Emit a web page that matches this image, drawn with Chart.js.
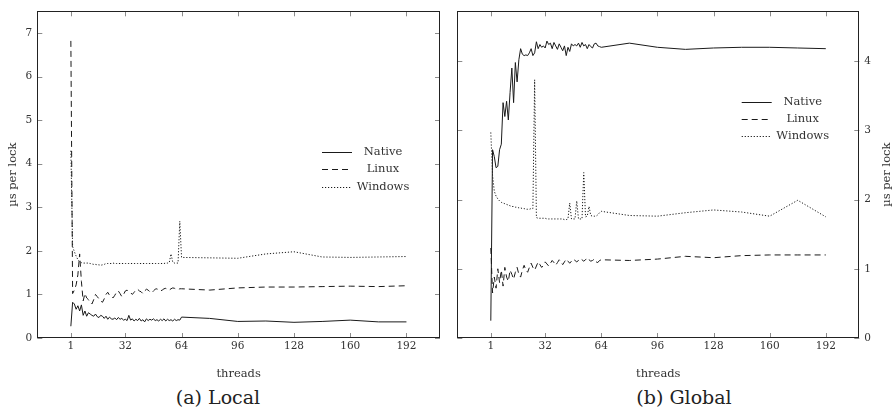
<!DOCTYPE html>
<html>
<head>
<meta charset="utf-8">
<script src="https://cdn.jsdelivr.net/npm/chart.js@4.4.1/dist/chart.umd.min.js"></script>
<style>
    body { margin: 0; background: #fff; width: 893px; height: 411px; position: relative; overflow: hidden; font-family: 'DejaVu Serif', serif; }
    .painel { position: absolute; top: 0; height: 385px; }
    #painel-local { left: 0; width: 446px; }
    #painel-global { left: 446px; width: 447px; }
    .legenda-fig { position: absolute; top: 386px; font-size: 19px; line-height: 22px; color: #222; transform: translateX(-50%); white-space: nowrap; }
    .aquecer { position: absolute; left: -999px; top: 0; font-family: 'DejaVu Serif'; font-size: 11px; }
</style>
</head>
<body>
<span class="aquecer">µs per lock 0123456789 threads</span>
<div class="painel" id="painel-local"><canvas id="chart-local"></canvas></div>
<div class="painel" id="painel-global"><canvas id="chart-global"></canvas></div>
<div class="legenda-fig" style="left:218px">(a) Local</div>
<div class="legenda-fig" style="left:684px">(b) Global</div>
<script>
const threads = [1, 2, 3, 4, 5, 6, 7, 8, 9, 10,
    11, 12, 13, 14, 15, 16, 17, 18, 19, 20,
    21, 22, 23, 24, 25, 26, 27, 28, 29, 30,
    31, 32, 33, 34, 35, 36, 37, 38, 39, 40,
    41, 42, 43, 44, 45, 46, 47, 48, 49, 50,
    51, 52, 53, 54, 55, 56, 57, 58, 59, 60,
    61, 62, 63, 64,
    80, 96, 112, 128, 144, 160, 176, 192];

const seriesNames = ['Native', 'Linux', 'Windows'];
const xTicks = [1, 32, 64, 96, 128, 160, 192];
const localYTicks = [0, 1, 2, 3, 4, 5, 6, 7];
const globalYTicks = [0, 1, 2, 3, 4];

const localNative = [0.27, 0.82, 0.78, 0.66, 0.74, 0.62, 0.76, 0.52, 0.62, 0.50,
    0.58, 0.55, 0.52, 0.50, 0.55, 0.49, 0.47, 0.52, 0.50, 0.45,
    0.50, 0.43, 0.48, 0.44, 0.43, 0.46, 0.42, 0.47, 0.43, 0.45,
    0.41, 0.43, 0.40, 0.52, 0.41, 0.44, 0.39, 0.43, 0.40, 0.45,
    0.39, 0.42, 0.37, 0.44, 0.40, 0.43, 0.41, 0.44, 0.40, 0.42,
    0.39, 0.43, 0.40, 0.44, 0.39, 0.43, 0.40, 0.42, 0.39, 0.43,
    0.40, 0.42, 0.41, 0.48,
    0.45, 0.38, 0.39, 0.36, 0.38, 0.41, 0.37, 0.37];

const localLinux = [6.82, 1.02, 1.10, 1.22, 1.45, 1.93, 1.30, 0.85, 1.02, 0.92,
    0.88, 0.82, 0.78, 0.88, 1.00, 0.95, 0.90, 0.85, 0.82, 0.90,
    1.00, 1.05, 0.98, 0.95, 0.92, 0.98, 1.05, 1.08, 1.02, 0.95,
    1.00, 1.08, 1.10, 1.06, 1.04, 1.00, 1.05, 1.10, 1.12, 1.08,
    1.06, 1.02, 1.08, 1.12, 1.10, 1.06, 1.04, 1.08, 1.12, 1.13,
    1.10, 1.08, 1.10, 1.13, 1.14, 1.12, 1.10, 1.13, 1.15, 1.14,
    1.12, 1.11, 1.13, 1.13,
    1.10, 1.15, 1.17, 1.17, 1.18, 1.19, 1.18, 1.20];

const localWindows = [4.30, 2.10, 1.98, 1.88, 1.80, 1.75, 1.73, 1.72, 1.72, 1.72,
    1.72, 1.71, 1.70, 1.69, 1.69, 1.68, 1.68, 1.67, 1.68, 1.69,
    1.71, 1.71, 1.71, 1.71, 1.72, 1.71, 1.71, 1.71, 1.71, 1.71,
    1.71, 1.71, 1.71, 1.71, 1.71, 1.71, 1.71, 1.71, 1.71, 1.71,
    1.71, 1.71, 1.71, 1.71, 1.71, 1.71, 1.71, 1.71, 1.71, 1.71,
    1.71, 1.71, 1.71, 1.71, 1.72, 1.72, 1.73, 1.93, 1.74, 1.72,
    1.72, 1.72, 2.68, 1.85,
    1.84, 1.83, 1.93, 1.98, 1.86, 1.85, 1.86, 1.87];

const globalNative = [0.25, 2.72, 2.62, 2.46, 2.48, 2.72, 2.80, 3.40, 3.20, 3.42,
    3.15, 3.55, 3.90, 3.40, 3.98, 3.70, 4.02, 4.18, 4.10, 4.08,
    4.09, 4.08, 4.12, 4.18, 4.08, 4.12, 4.28, 4.18, 4.24, 4.20,
    4.22, 4.19, 4.29, 4.24, 4.26, 4.18, 4.27, 4.22, 4.17, 4.25,
    4.20, 4.15, 4.22, 4.08, 4.20, 4.14, 4.25, 4.22, 4.24, 4.22,
    4.26, 4.20, 4.27, 4.22, 4.24, 4.18, 4.24, 4.21, 4.19, 4.25,
    4.26, 4.22, 4.21, 4.20,
    4.26, 4.20, 4.17, 4.19, 4.20, 4.20, 4.19, 4.18];

const globalLinux = [1.30, 0.65, 0.88, 0.72, 1.00, 0.80, 0.98, 0.75, 1.02, 0.88,
    0.82, 0.98, 0.92, 0.85, 0.95, 1.02, 0.92, 0.88, 0.98, 1.05,
    0.98, 0.95, 1.02, 1.08, 1.02, 0.98, 1.04, 1.10, 1.06, 1.02,
    1.05, 1.10, 1.07, 1.04, 1.08, 1.12, 1.09, 1.05, 1.09, 1.13,
    1.10, 1.06, 1.10, 1.14, 1.11, 1.08, 1.11, 1.14, 1.12, 1.10,
    1.12, 1.15, 1.13, 1.11, 1.13, 1.16, 1.13, 1.11, 1.12, 1.14,
    1.10, 1.09, 1.12, 1.13,
    1.12, 1.14, 1.18, 1.16, 1.19, 1.20, 1.20, 1.20];

const globalWindows = [2.97, 2.35, 2.12, 2.05, 2.01, 1.98, 1.96, 1.95, 1.94, 1.93,
    1.92, 1.91, 1.90, 1.90, 1.89, 1.89, 1.88, 1.88, 1.87, 1.87,
    1.86, 1.86, 1.86, 1.87, 1.87, 3.73, 1.74, 1.73, 1.73, 1.73,
    1.73, 1.73, 1.72, 1.72, 1.72, 1.72, 1.72, 1.72, 1.72, 1.72,
    1.72, 1.72, 1.71, 1.71, 1.72, 1.95, 1.72, 1.72, 1.72, 1.98,
    1.72, 1.72, 1.72, 2.39, 1.75, 1.76, 1.90, 1.77, 1.76, 1.76,
    1.76, 1.78, 1.81, 1.83,
    1.77, 1.76, 1.81, 1.85, 1.82, 1.76, 1.99, 1.75];

(function () {
    const FONTE = 'DejaVu Serif';
    const COR_LINHA = '#1a1a1a';
    const COR_TEXTO = '#333';
    const TRACOS = [[], [6, 4], [1.2, 1.8]];

    function montarSerie(nome, valores, i) {
        return {
            label: nome,
            data: threads.map((t, k) => ({ x: t, y: valores[k] })),
            borderColor: COR_LINHA,
            borderWidth: 1,
            borderDash: TRACOS[i],
            pointRadius: 0,
            tension: 0,
            fill: false
        };
    }

    // caixa do grafico + marcas de tick para dentro (estilo pgfplots)
    const molduraPlugin = {
        id: 'moldura',
        afterDraw(chart) {
            const { ctx, chartArea: a, scales } = chart;
            const linha = (x1, y1, x2, y2) => { ctx.beginPath(); ctx.moveTo(x1, y1); ctx.lineTo(x2, y2); ctx.stroke(); };
            ctx.save();
            ctx.strokeStyle = '#8c8c8c';
            ctx.lineWidth = 1;
            scales.x.ticks.forEach(t => {
                const px = Math.round(scales.x.getPixelForValue(t.value)) + 0.5;
                linha(px, a.bottom, px, a.bottom - 5);
                linha(px, a.top, px, a.top + 5);
            });
            scales.y.ticks.forEach(t => {
                const py = Math.round(scales.y.getPixelForValue(t.value)) + 0.5;
                linha(a.left, py, a.left + 5, py);
                linha(a.right, py, a.right - 5, py);
            });
            ctx.strokeStyle = '#222';
            ctx.strokeRect(Math.round(a.left) + 0.5, Math.round(a.top) + 0.5, Math.round(a.width) - 1, Math.round(a.height) - 1);
            ctx.restore();
        }
    };

    const legendaPlugin = {
        id: 'legendaInterna',
        afterDraw(chart, args, opts) {
            const { ctx } = chart;
            ctx.save();
            ctx.font = '11.5px "' + FONTE + '"';
            ctx.textAlign = 'center';
            ctx.textBaseline = 'middle';
            chart.data.datasets.forEach((ds, i) => {
                const y = opts.y + i * opts.passo;
                ctx.strokeStyle = COR_LINHA;
                ctx.lineWidth = 1;
                ctx.setLineDash(ds.borderDash || []);
                ctx.beginPath();
                ctx.moveTo(opts.x, Math.round(y) + 0.5);
                ctx.lineTo(opts.x + 30, Math.round(y) + 0.5);
                ctx.stroke();
                ctx.setLineDash([]);
                ctx.fillStyle = COR_TEXTO;
                ctx.fillText(ds.label, opts.textoX, y);
            });
            ctx.restore();
        }
    };

    // titulo do eixo direito, lido de baixo para cima
    const tituloDireitoPlugin = {
        id: 'tituloDireito',
        afterDraw(chart, args, opts) {
            if (!opts.texto) return;
            const { ctx, chartArea: a } = chart;
            ctx.save();
            ctx.font = '11.5px "' + FONTE + '"';
            ctx.fillStyle = COR_TEXTO;
            ctx.textAlign = 'center';
            ctx.textBaseline = 'middle';
            ctx.translate(opts.x, (a.top + a.bottom) / 2);
            ctx.rotate(-Math.PI / 2);
            ctx.fillText(opts.texto, 0, 0);
            ctx.restore();
        }
    };

    function criarGrafico(id, series, yMax, yTicks, lado, cfg) {
        return new Chart(document.getElementById(id), {
            type: 'line',
            data: { datasets: series.map((v, i) => montarSerie(seriesNames[i], v, i)) },
            options: {
                responsive: true,
                maintainAspectRatio: false,
                animation: false,
                layout: { padding: cfg.padding },
                plugins: {
                    legend: { display: false },
                    tooltip: { enabled: false },
                    legendaInterna: cfg.legenda,
                    tituloDireito: cfg.tituloDireito || {}
                },
                scales: {
                    x: {
                        type: 'linear',
                        min: -18.1,
                        max: 211.1,
                        grid: { display: false, drawTicks: false },
                        border: { display: false },
                        afterBuildTicks: (s) => { s.ticks = xTicks.map(v => ({ value: v })); },
                        afterFit: (s) => { s.height = 47; },
                        ticks: { autoSkip: false, maxRotation: 0, padding: 2, color: '#333', font: { family: FONTE, size: 10.5 } },
                        title: { display: true, text: 'threads', color: COR_TEXTO, font: { family: FONTE, size: 11.5 }, padding: { top: 0, bottom: 4 } }
                    },
                    y: {
                        position: lado,
                        min: 0,
                        max: yMax,
                        grid: { display: false, drawTicks: false },
                        border: { display: false },
                        afterBuildTicks: (s) => { s.ticks = yTicks.map(v => ({ value: v })); },
                        afterFit: (s) => { s.width = cfg.larguraY; },
                        ticks: { padding: 5, color: '#333', font: { family: FONTE, size: 10.5 } },
                        title: { display: lado === 'left', text: 'µs per lock', color: COR_TEXTO, font: { family: FONTE, size: 11.5 }, padding: { top: 6, bottom: 0 } }
                    }
                }
            },
            plugins: [molduraPlugin, legendaPlugin, tituloDireitoPlugin]
        });
    }

    function init() {
        Chart.defaults.font.family = FONTE;
        criarGrafico('chart-local', [localNative, localLinux, localWindows], 7.5, localYTicks, 'left', {
            padding: { left: 0, right: 6, top: 2.7, bottom: 0 },
            larguraY: 37.3,
            legenda: { x: 322, textoX: 383, y: 152, passo: 17.4 }
        });

        criarGrafico('chart-global', [globalNative, globalLinux, globalWindows], 4.72, globalYTicks, 'right', {
            padding: { left: 11.3, right: 0, top: 2.7, bottom: 0 },
            larguraY: 33.7,
            legenda: { x: 295.7, textoX: 356.7, y: 101.7, passo: 17.2 },
            tituloDireito: { texto: 'µs per lock', x: 440.7 }
        });
    }

    const carregar = (document.fonts && document.fonts.load)
        ? document.fonts.load('11px "' + FONTE + '"').catch(() => null)
        : Promise.resolve();
    carregar.then(init, init);
})();
</script>
</body>
</html>
